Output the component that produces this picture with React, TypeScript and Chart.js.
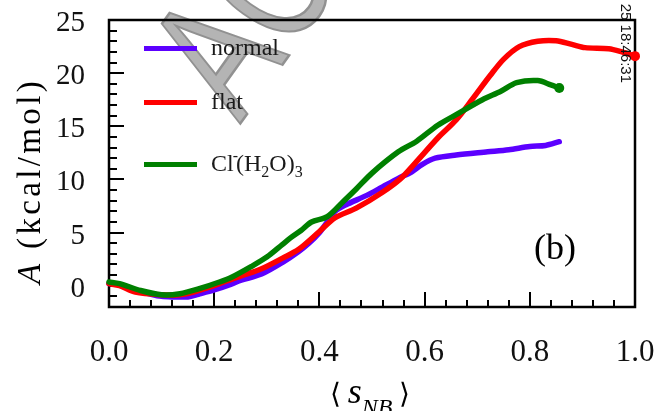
import React, { useEffect, useRef } from "react";
import { Chart, registerables } from "chart.js";
Chart.register(...registerables);

// ---- data ----
const normalS = [0, 0.02, 0.05, 0.08, 0.1, 0.12, 0.15, 0.17, 0.2, 0.23, 0.25, 0.29, 0.33, 0.36, 0.38, 0.4, 0.415, 0.43, 0.45, 0.49, 0.52, 0.55, 0.575, 0.595, 0.62, 0.66, 0.72, 0.76, 0.8, 0.83, 0.856];
const normalA = [0.2, 0.1, -0.4, -0.8, -1.0, -1.05, -1.05, -0.8, -0.4, 0.1, 0.5, 1.1, 2.2, 3.2, 4.0, 5.0, 6.0, 7.0, 7.6, 8.5, 9.3, 10.1, 10.7, 11.4, 12.0, 12.3, 12.6, 12.8, 13.1, 13.2, 13.55];

const flatS = [0, 0.02, 0.05, 0.1, 0.135, 0.17, 0.21, 0.25, 0.29, 0.33, 0.36, 0.4, 0.43, 0.47, 0.52, 0.555, 0.585, 0.625, 0.66, 0.69, 0.725, 0.75, 0.78, 0.815, 0.85, 0.88, 0.905, 0.95, 0.975, 1.0];
const flatA = [0.2, 0.0, -0.6, -0.85, -0.85, -0.45, 0.2, 0.9, 1.6, 2.6, 3.4, 5.1, 6.4, 7.3, 8.8, 10.1, 11.7, 13.9, 15.6, 17.5, 19.8, 21.3, 22.5, 23.0, 23.05, 22.7, 22.4, 22.3, 22.0, 21.6];

const clS = [0, 0.02, 0.06, 0.1, 0.135, 0.17, 0.21, 0.235, 0.27, 0.3, 0.33, 0.345, 0.365, 0.385, 0.415, 0.445, 0.47, 0.5, 0.55, 0.585, 0.625, 0.66, 0.71, 0.745, 0.775, 0.815, 0.84, 0.856];
const clA = [0.35, 0.2, -0.45, -0.85, -0.75, -0.3, 0.35, 0.85, 1.8, 2.7, 3.9, 4.5, 5.2, 6.0, 6.5, 7.9, 9.1, 10.6, 12.6, 13.6, 15.1, 16.1, 17.5, 18.3, 19.1, 19.3, 18.9, 18.6];

const seriesLabels = ["normal", "flat", "Cl-(H2O)3"];
const xTickValues = [0, 0.2, 0.4, 0.6, 0.8, 1.0];
const yTickValues = [0, 5, 10, 15, 20, 25];
const xRange = [0, 1];
const yRange = [-2, 25];
const panelLabel = "(b)";
const stamp = "25 18:46:31";
const watermark = "ACCEPTED MANUSCRIPT";

const PURPLE = "#5c00ff";
const RED = "#ff0000";
const GREEN = "#008000";
const SERIF = "'Liberation Serif', 'Times New Roman', serif";

const toPts = (s: number[], a: number[]) => s.map((v, i) => ({ x: v, y: a[i] }));

type Seg = { t: string; size: number; italic?: boolean; dy?: number; dx?: number };
function segWidth(ctx: CanvasRenderingContext2D, segs: Seg[]) {
  let w = 0;
  for (const s of segs) {
    ctx.font = `${s.italic ? "italic " : ""}${s.size}px ${SERIF}`;
    w += ctx.measureText(s.t).width + (s.dx || 0);
  }
  return w;
}
function drawSegs(ctx: CanvasRenderingContext2D, segs: Seg[], x: number, y: number) {
  let cx = x;
  for (const s of segs) {
    ctx.font = `${s.italic ? "italic " : ""}${s.size}px ${SERIF}`;
    cx += s.dx || 0;
    ctx.fillText(s.t, cx, y + (s.dy || 0));
    cx += ctx.measureText(s.t).width;
  }
}

const decor = {
  id: "decor",
  beforeDraw(chart: any) {
    const ctx = chart.ctx as CanvasRenderingContext2D;
    ctx.save();
    ctx.translate(240, 124);
    ctx.rotate(-0.95);
    ctx.scale(0.72, 1);
    ctx.font = `177px 'Liberation Sans', Arial, sans-serif`;
    ctx.textBaseline = "alphabetic";
    ctx.textAlign = "left";
    ctx.fillStyle = "rgb(180,180,180)";
    ctx.strokeStyle = "rgb(145,145,145)";
    ctx.lineWidth = 2.5;
    ctx.fillText(watermark, 0, 0);
    ctx.strokeText(watermark, 0, 0);
    ctx.restore();
  },
  beforeDatasetsDraw(chart: any) {
    const ctx = chart.ctx as CanvasRenderingContext2D;
    const { left, right, top, bottom } = chart.chartArea;
    const xs = chart.scales.x;
    const ys = chart.scales.y;
    ctx.save();
    ctx.strokeStyle = "#000";
    ctx.lineWidth = 2;
    for (let i = 0; i <= 25; i++) {
      const v = i * 0.04;
      const px = Math.round(xs.getPixelForValue(v));
      const len = i % 5 === 0 ? 15 : 7;
      ctx.beginPath();
      ctx.moveTo(px, bottom);
      ctx.lineTo(px, bottom - len);
      ctx.stroke();
    }
    for (let v = yRange[0]; v <= yRange[1]; v++) {
      const py = Math.round(ys.getPixelForValue(v));
      const len = v % 5 === 0 ? 15 : 8;
      ctx.beginPath();
      ctx.moveTo(left, py);
      ctx.lineTo(left + len, py);
      ctx.stroke();
    }
    ctx.lineWidth = 2.5;
    ctx.strokeRect(left, top, right - left, bottom - top);

    // tick labels
    ctx.fillStyle = "#111";
    ctx.textBaseline = "alphabetic";
    ctx.font = `31px ${SERIF}`;
    ctx.textAlign = "center";
    for (const v of xTickValues) {
      ctx.fillText(v.toFixed(1), xs.getPixelForValue(v), 361);
    }
    ctx.font = `29px ${SERIF}`;
    ctx.textAlign = "right";
    for (const v of yTickValues) {
      ctx.fillText(String(v), 85, ys.getPixelForValue(v) + 11);
    }
    ctx.restore();
  },
  afterDraw(chart: any) {
    const ctx = chart.ctx as CanvasRenderingContext2D;
    ctx.save();
    // legend
    const items = [
      { color: PURPLE, y: 48, segs: [{ t: seriesLabels[0], size: 24 }] as Seg[] },
      { color: RED, y: 102, segs: [{ t: seriesLabels[1], size: 24 }] as Seg[] },
      {
        color: GREEN,
        y: 164,
        segs: [
          { t: "Cl", size: 24 },
          { t: "-", size: 16, dy: -10, dx: -1 },
          { t: "(H", size: 24, dx: -2 },
          { t: "2", size: 16, dy: 6 },
          { t: "O)", size: 24 },
          { t: "3", size: 16, dy: 6 },
        ] as Seg[],
      },
    ];
    for (const it of items) {
      ctx.strokeStyle = it.color;
      ctx.lineWidth = 5;
      ctx.beginPath();
      ctx.moveTo(144, it.y + 0.5);
      ctx.lineTo(197, it.y + 0.5);
      ctx.stroke();
      ctx.fillStyle = "#1a1a1a";
      ctx.textBaseline = "alphabetic";
      ctx.textAlign = "left";
      drawSegs(ctx, it.segs, 211, it.y + 7);
    }
    // panel label
    ctx.fillStyle = "#000";
    ctx.font = `36px ${SERIF}`;
    ctx.textAlign = "center";
    ctx.textBaseline = "alphabetic";
    ctx.fillText(panelLabel, 555, 259);
    // x title
    ctx.textAlign = "left";
    const xt: Seg[] = [
      { t: "\u27E8 ", size: 28 },
      { t: "s", size: 36, italic: true },
      { t: "NB", size: 24, italic: true, dy: 12 },
      { t: " \u27E9", size: 28 },
    ];
    const w = segWidth(ctx, xt);
    drawSegs(ctx, xt, 370 - w / 2, 403);
    // y title (slightly letter-spaced)
    const yt: Seg[] = [
      { t: "A", size: 33, italic: true },
      { t: " (kcal/mol)", size: 33 },
    ];
    const natural = segWidth(ctx, yt);
    const nChars = yt.reduce((n, s) => n + s.t.length, 0);
    const spacing = Math.max(0, (206 - natural) / nChars);
    ctx.save();
    const anyCtx = ctx as any;
    const hasLS = "letterSpacing" in anyCtx;
    if (hasLS) anyCtx.letterSpacing = `${spacing.toFixed(2)}px`;
    const yw = segWidth(ctx, yt);
    ctx.translate(40, 181);
    ctx.rotate(-Math.PI / 2);
    if (yw < 196) {
      ctx.scale(206 / yw, 1);
    }
    drawSegs(ctx, yt, -yw / 2, 0);
    if (hasLS) anyCtx.letterSpacing = "0px";
    ctx.restore();
    // timestamp
    ctx.save();
    ctx.translate(621, 83);
    ctx.rotate(Math.PI / 2);
    ctx.font = `15px 'Liberation Sans', Arial, sans-serif`;
    ctx.fillStyle = "#111";
    ctx.textAlign = "right";
    ctx.textBaseline = "alphabetic";
    ctx.fillText(stamp, 0, 0);
    ctx.restore();
    ctx.restore();
  },
};

export default function App() {
  const ref = useRef<HTMLCanvasElement | null>(null);
  useEffect(() => {
    if (!ref.current) return;
    const last = (n: number) => (c: any) => (c.dataIndex === n - 1 ? 5 : 0);
    const chart = new Chart(ref.current, {
      type: "line",
      data: {
        datasets: [
          {
            label: seriesLabels[2],
            data: toPts(clS, clA),
            borderColor: GREEN,
            backgroundColor: GREEN,
            borderWidth: 5.5,
            pointRadius: last(clS.length),
            pointBorderWidth: 0,
            tension: 0.3,
            order: 0,
            clip: false as any,
          },
          {
            label: seriesLabels[1],
            data: toPts(flatS, flatA),
            borderColor: RED,
            backgroundColor: RED,
            borderWidth: 5.5,
            pointRadius: last(flatS.length),
            pointBorderWidth: 0,
            tension: 0.3,
            order: 1,
            clip: false as any,
          },
          {
            label: seriesLabels[0],
            data: toPts(normalS, normalA),
            borderColor: PURPLE,
            backgroundColor: PURPLE,
            borderWidth: 5.5,
            pointRadius: 0,
            tension: 0.3,
            order: 2,
            clip: false as any,
          },
        ],
      },
      options: {
        responsive: false,
        animation: false,
        devicePixelRatio: 1,
        layout: { padding: { top: 20, right: 20, left: 0, bottom: 0 } },
        plugins: { legend: { display: false }, tooltip: { enabled: false } },
        elements: { line: { borderCapStyle: "round", borderJoinStyle: "round" } },
        scales: {
          x: {
            type: "linear",
            min: xRange[0],
            max: xRange[1],
            grid: { display: false, drawTicks: false },
            border: { display: false },
            ticks: { display: false },
            afterFit: (s: any) => {
              s.height = 104;
            },
          },
          y: {
            type: "linear",
            min: yRange[0],
            max: yRange[1],
            grid: { display: false, drawTicks: false },
            border: { display: false },
            ticks: { display: false },
            afterFit: (s: any) => {
              s.width = 109;
            },
          },
        },
      },
      plugins: [decor],
    } as any);
    return () => chart.destroy();
  }, []);
  return (
    <div style={{ position: "absolute", left: 0, top: 0, width: 655, height: 411, background: "#fff" }}>
      <canvas ref={ref} width={655} height={411} />
    </div>
  );
}
